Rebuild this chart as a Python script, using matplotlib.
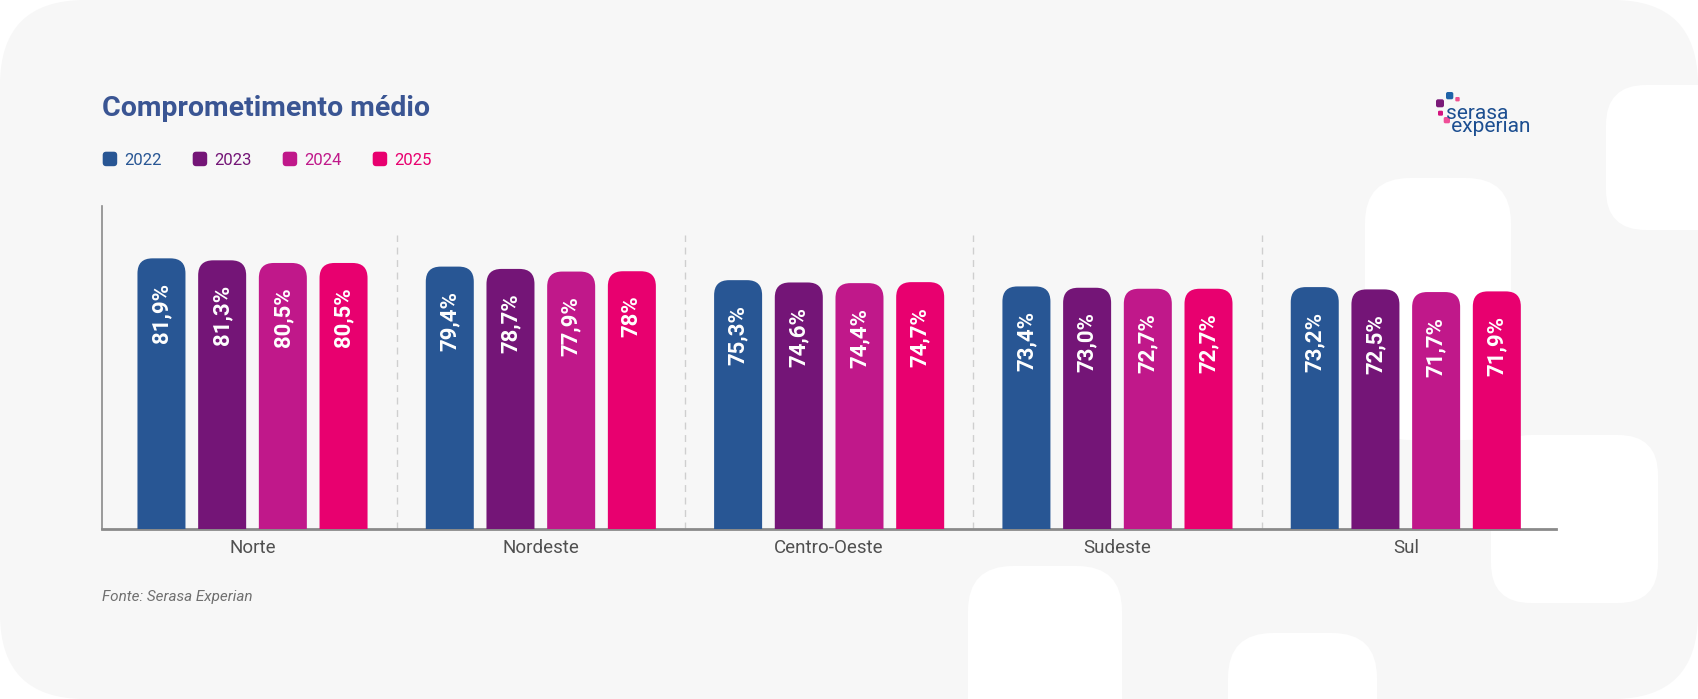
import matplotlib
matplotlib.use('Agg')
import matplotlib.pyplot as plt
from matplotlib.patches import FancyBboxPatch
import numpy as np

plt.rcParams['font.family'] = ['Roboto', 'DejaVu Sans']

# ---------------- data ----------------
regions = ['Norte', 'Nordeste', 'Centro-Oeste', 'Sudeste', 'Sul']
years = ['2022', '2023', '2024', '2025']
v2022 = [81.9, 79.4, 75.3, 73.4, 73.2]
v2023 = [81.3, 78.7, 74.6, 73.0, 72.5]
v2024 = [80.5, 77.9, 74.4, 72.7, 71.7]
v2025 = [80.5, 78.0, 74.7, 72.7, 71.9]
lab2022 = ['81,9%', '79,4%', '75,3%', '73,4%', '73,2%']
lab2023 = ['81,3%', '78,7%', '74,6%', '73,0%', '72,5%']
lab2024 = ['80,5%', '77,9%', '74,4%', '72,7%', '71,7%']
lab2025 = ['80,5%', '78%', '74,7%', '72,7%', '71,9%']
colors = ['#285694', '#741577', '#c0188a', '#e8006f']
title = 'Comprometimento médio'
source = 'Fonte: Serasa Experian'

series = [v2022, v2023, v2024, v2025]
labels = [lab2022, lab2023, lab2024, lab2025]

W, H = 1698, 699
fig = plt.figure(figsize=(W / 100, H / 100), dpi=100)
fig.patch.set_facecolor('white')

# ---------------- background (pixel coordinates) ----------------
bg = fig.add_axes([0, 0, 1, 1])
bg.set_xlim(0, W)
bg.set_ylim(H, 0)
bg.axis('off')
bg.set_zorder(0)


def rbox(axis, x0, y0, x1, y1, r, fc, z=1):
    p = FancyBboxPatch((x0, y0), x1 - x0, y1 - y0,
                       boxstyle=f'round,pad=0,rounding_size={r}',
                       fc=fc, ec='none', zorder=z)
    axis.add_patch(p)
    return p


rbox(bg, 0, 0, W, H, 85, '#f7f7f7', 0)
# decorative white shapes
rbox(bg, 1606, 85, W + 80, 230, 40, 'white')
rbox(bg, 1365, 178, 1511, 440, 45, 'white')
rbox(bg, 1491, 435, 1658, 603, 40, 'white')
rbox(bg, 968, 566, 1122, H + 80, 45, 'white')
rbox(bg, 1228, 633, 1377, H + 80, 45, 'white')

# title
bg.text(102, 116.5, title, fontsize=20.5, fontweight='bold',
        color='#3a5593', ha='left', va='baseline', zorder=5)

# legend
for j, (yr, col) in enumerate(zip(years, colors)):
    x0 = 102.7 + 90 * j
    rbox(bg, x0, 151.7, x0 + 14.5, 166.2, 3.5, col, 5)
    bg.text(x0 + 21.6, 165.2, yr, fontsize=12, color=col,
            ha='left', va='baseline', zorder=5)

# source
bg.text(102.5, 601.5, source, fontsize=11, style='italic',
        color='#707070', ha='left', va='baseline', zorder=5)

# logo
for (x0, y0, s, c) in [(1446, 92, 7.3, '#1f63a8'), (1455.3, 97, 4.4, '#f0508f'),
                       (1436, 99.3, 8, '#7a1a78'), (1438, 110.7, 5, '#d4147f'),
                       (1443.7, 117, 6.3, '#f04e98')]:
    rbox(bg, x0, y0, x0 + s, y0 + s, s * 0.25, c, 5)
bg.text(1446, 132.5, 'serasa\n experian', fontsize=15, color='#1d4f91',
        ha='left', va='baseline', linespacing=0.64, multialignment='left',
        zorder=5)

# ---------------- main chart ----------------
left, right, bottom, top = 102, 1556, 529, 205.8
ax = fig.add_axes([left / W, (H - bottom) / H, (right - left) / W, (bottom - top) / H])
ax.set_facecolor('none')
ax.set_zorder(1)

x = np.arange(len(regions))
step = 0.2105
width = 0.1665
offsets = (np.arange(len(years)) - 1.5) * step

ax.set_xlim(-0.522, 4.521)
ax.set_ylim(0, 97.8)

px_x = ax.transData.transform((1, 0))[0] - ax.transData.transform((0, 0))[0]
px_y = ax.transData.transform((0, 1))[1] - ax.transData.transform((0, 0))[1]
r_units = 15 / px_x
aspect = px_x / px_y

ax.vlines(np.arange(len(regions) - 1) + 0.5, 0, 89, colors='#cfcfcf',
          linestyles=(0, (5, 4)), lw=1, zorder=1)

for vals, labs, col, off in zip(series, labels, colors, offsets):
    bars = ax.bar(x + off, vals, width, color=col, zorder=3)
    for rect, v, lab in zip(bars, vals, labs):
        rect.set_visible(False)
        rx, rw, rh = rect.get_x(), rect.get_width(), rect.get_height()
        p = FancyBboxPatch((rx, -10), rw, rh + 10,
                           boxstyle=f'round,pad=0,rounding_size={r_units}',
                           mutation_aspect=aspect, fc=col, ec='none', zorder=3)
        ax.add_patch(p)
        ax.text(rx + rw / 2, rh - 24.5 / px_y, lab, rotation=90,
                ha='center', va='top', color='white', fontsize=16,
                fontweight='bold', zorder=4)

for s in ['top', 'right']:
    ax.spines[s].set_visible(False)
ax.spines['left'].set_color('#8a8a8a')
ax.spines['left'].set_linewidth(1.2)
ax.spines['bottom'].set_color('#8a8a8a')
ax.spines['bottom'].set_linewidth(2)
ax.spines['bottom'].set_zorder(2.5)

ax.set_yticks([])
ax.set_xticks(x)
ax.set_xticklabels(regions)
ax.tick_params(axis='x', length=0, pad=7, labelsize=13.5, labelcolor='#505050')

fig.savefig('out.png', dpi=100, facecolor=fig.get_facecolor())
